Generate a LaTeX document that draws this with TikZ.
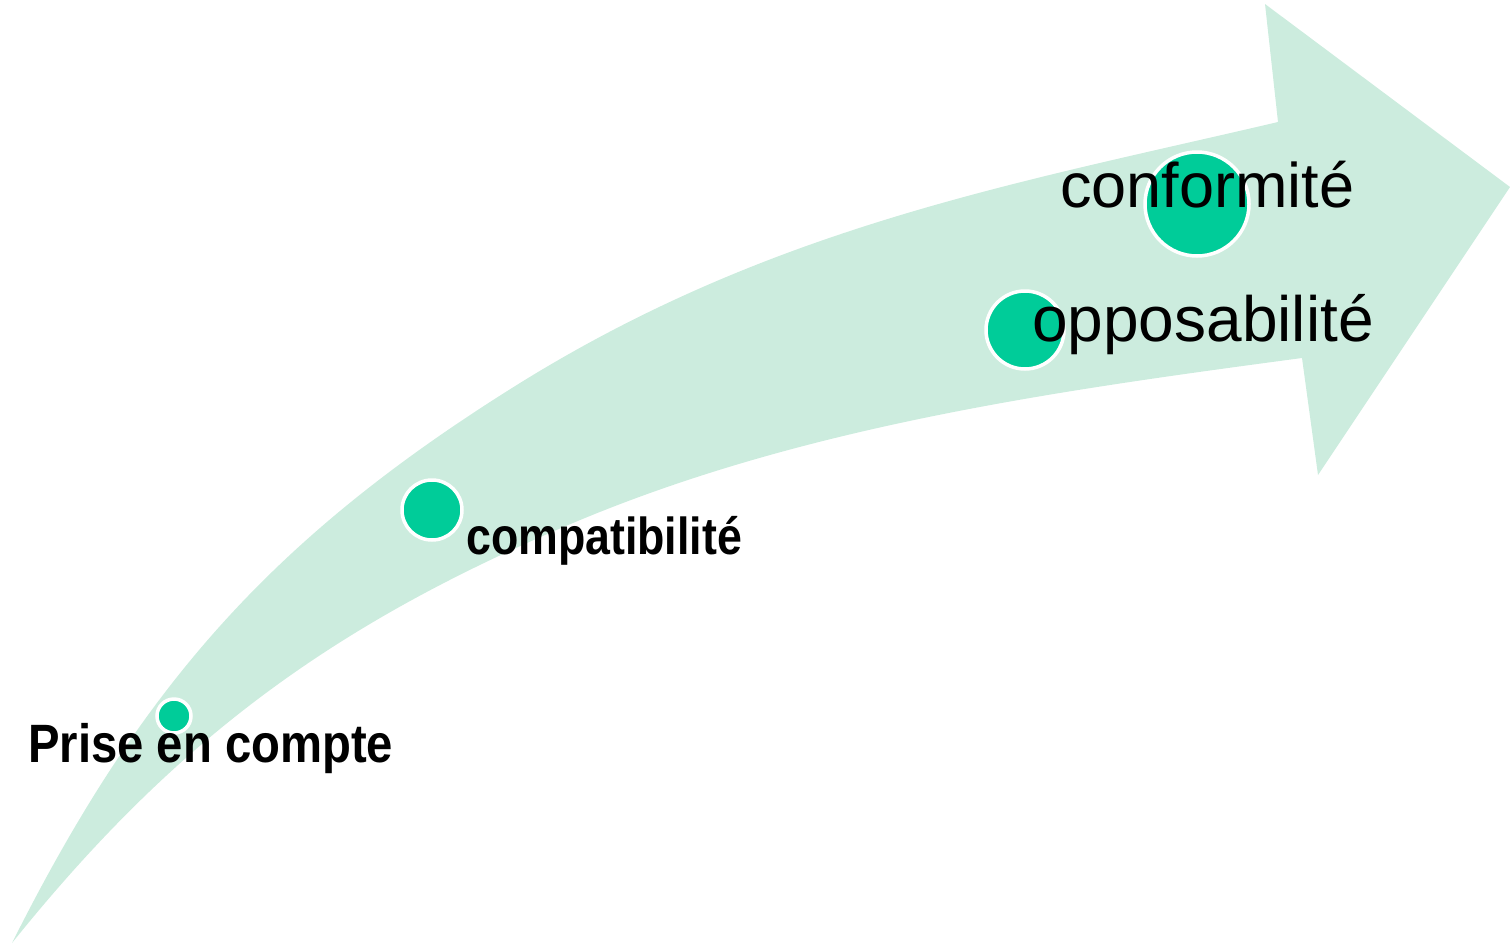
\documentclass[tikz,border=0pt]{standalone}
\usepackage{fontspec}
\setmainfont{Liberation Sans}
\usepackage{graphicx}
\definecolor{bandgreen}{RGB}{204,236,222}
\definecolor{dotgreen}{RGB}{0,204,153}
\tikzset{
  band/.style={fill=bandgreen},
  dot/.style={circle, fill=dotgreen, draw=white, line width=3.5pt, inner sep=0pt},
  lbl/.style={anchor=base west, inner sep=0pt, text=black}
}
\begin{document}
\begin{tikzpicture}[x=1pt,y=-1pt]
\useasboundingbox (0,0) rectangle (1510,945);
\fill[band] (12,943) .. controls (142,684) and (274,536) .. (520,383)
  .. controls (775,225) and (1018,183) .. (1278,122)
  -- (1265,4) -- (1510,187) -- (1318,475) -- (1302,358)
  .. controls (1055,391) and (803,426) .. (573,523)
  .. controls (333,624) and (175,740) .. (12,943) -- cycle;
\node[dot, minimum size=34pt] (d1) at (174,716) {};
\node[dot, minimum size=60pt] (d2) at (432,510) {};
\node[dot, minimum size=78pt] (d4) at (1025,330) {};
\node[dot, minimum size=104pt] (d3) at (1197,204) {};
\node[lbl, font=\fontsize{54pt}{60pt}\selectfont\bfseries] (t1) at (28,762) {\scalebox{0.875}[1]{Prise en compte}};
\node[lbl, font=\fontsize{52pt}{58pt}\selectfont\bfseries] (t2) at (466,554) {\scalebox{0.86}[1]{compatibilité}};
\node[lbl, font=\fontsize{63pt}{69pt}\selectfont] (t3) at (1060,207) {conformité};
\node[lbl, font=\fontsize{64pt}{70pt}\selectfont] (t4) at (1032,341) {opposabilité};
\end{tikzpicture}
\end{document}
